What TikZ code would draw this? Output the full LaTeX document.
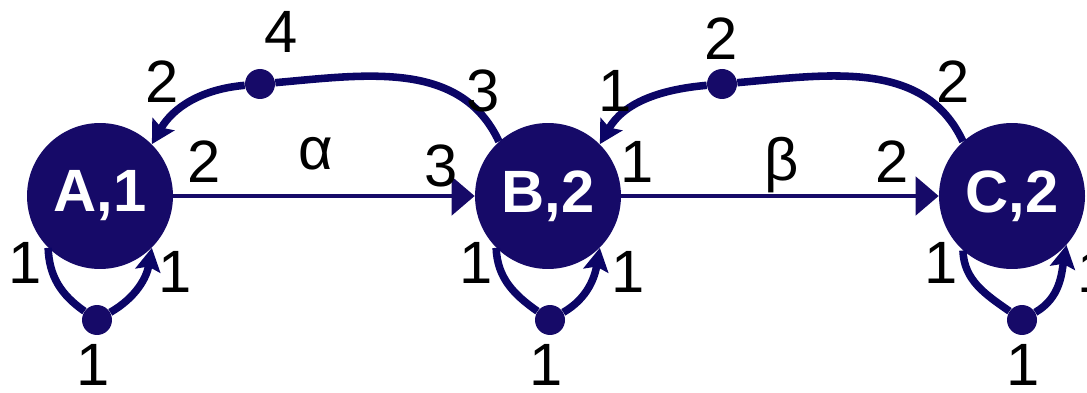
\documentclass[tikz,border=0pt]{standalone}
\usepackage{fontspec}
\setmainfont{Liberation Sans}
\usepackage{xcolor}
\usepackage{tikz}
\usetikzlibrary{arrows.meta}
\definecolor{statenavy}{HTML}{160A68}
\definecolor{edgenavy}{HTML}{0B0566}

\begin{document}
\begin{tikzpicture}[x=0.02cm, y=0.02cm,
  state/.style={circle, fill=statenavy, minimum size=2.92cm, inner sep=0pt,
    text=white, font=\fontsize{34}{40}\selectfont\bfseries},
  junc/.style={circle, fill=statenavy, minimum size=0.6cm, inner sep=0pt},
  wt/.style={anchor=base, inner sep=0pt, font=\fontsize{34}{40}\selectfont},
  flow/.style={line width=2.8pt, draw=statenavy, -{Triangle[length=0.46cm,width=0.76cm]}},
  back/.style={line width=4.3pt, draw=edgenavy},
  backhead/.style={back, -{Stealth[length=0.46cm,width=0.5cm,inset=0.08cm]}}]
  \useasboundingbox (0,0) rectangle (1087,392);
  % states
  \node[state] (A) at (100,196) {A,1};
  \node[state] (B) at (548,196) {B,2};
  \node[state] (C) at (1012,196) {C,2};
  \node[junc] (jAB) at (260,308) {};
  \node[junc] (jBC) at (722,308) {};
  \node[junc] (lpA) at (97,72) {};
  \node[junc] (lpB) at (550,72) {};
  \node[junc] (lpC) at (1022,72) {};
  % forward edges
  \draw[flow] (A) -- (B);
  \draw[flow] (B) -- (C);
  \node[wt] (wAB1) at (204,209) {2};
  \node[wt] (wAlpha) at (316,222) {α};
  \node[wt] (wAB2) at (441,205) {3};
  \node[wt] (wBC1) at (637,209) {1};
  \node[wt] (wBeta) at (782,211) {β};
  \node[wt] (wBC2) at (892,209) {2};
  % backward edges
  \draw[back] (B.132) to[out=115, in=5] (jAB);
  \draw[backhead] (jAB) to[out=185, in=60] (A.45);
  \draw[back] (C.132) to[out=115, in=5] (jBC);
  \draw[backhead] (jBC) to[out=185, in=60] (B.45);
  \node[wt] (wBA1) at (483,280) {3};
  \node[wt] (wBA2) at (281,339) {4};
  \node[wt] (wBA3) at (162,289) {2};
  \node[wt] (wCB1) at (953,289) {2};
  \node[wt] (wCB2) at (721,332) {2};
  \node[wt] (wCB3) at (615,280) {1};
  % self loops
  \draw[back] (A.225) to[out=-88, in=145] (lpA);
  \draw[backhead] (lpA) to[out=30, in=-100] (A.-45);
  \draw[back] (B.225) to[out=-88, in=145] (lpB);
  \draw[backhead] (lpB) to[out=30, in=-100] (B.-45);
  \draw[back] (C.228) to[out=-88, in=145] (lpC);
  \draw[backhead] (lpC) to[out=30, in=-100] (C.-42);
  \node[wt] (wAA1) at (25,109) {1};
  \node[wt] (wAA2) at (175,99) {1};
  \node[wt] (wAA3) at (93,7) {1};
  \node[wt] (wBB1) at (476,109) {1};
  \node[wt] (wBB2) at (628,99) {1};
  \node[wt] (wBB3) at (546,7) {1};
  \node[wt] (wCC1) at (941,109) {1};
  \node[wt] (wCC2) at (1094,99) {1};
  \node[wt] (wCC3) at (1023,7) {1};
\end{tikzpicture}
\end{document}
